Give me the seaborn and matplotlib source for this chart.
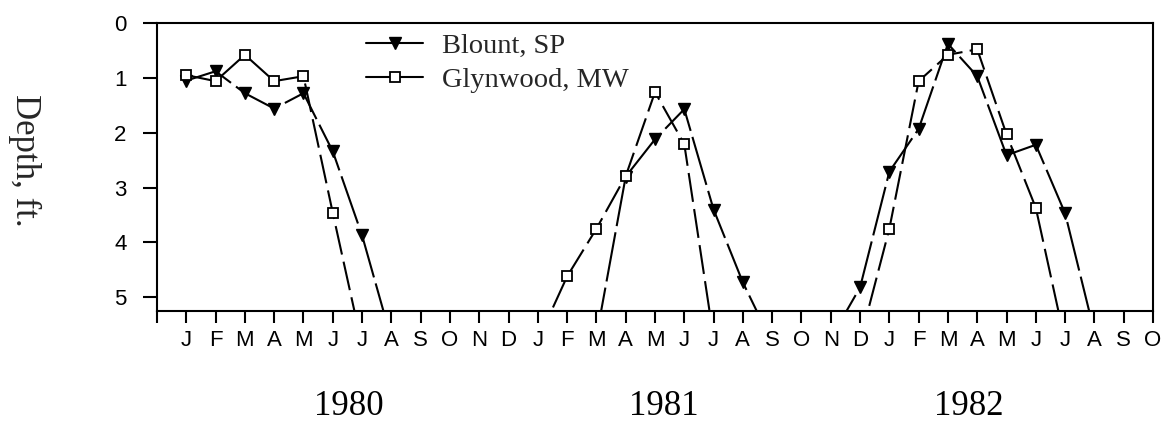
import numpy as np
import pandas as pd
import matplotlib
matplotlib.use("Agg")
import matplotlib.pyplot as plt
import seaborn as sns
from matplotlib.lines import Line2D
from matplotlib.transforms import blended_transform_factory

# ---- data -------------------------------------------------------------
months = (["J", "F", "M", "A", "M", "J", "J", "A", "S", "O", "N", "D"] * 2
          + ["J", "F", "M", "A", "M", "J", "J", "A", "S", "O"])
years = ["1980", "1981", "1982"]
year_pos = [6.56, 17.3, 27.7]
y_ticks = [0, 1, 2, 3, 4, 5]
nan = np.nan
blount = [1.05, 0.88, 1.28, 1.56, 1.28, 2.34, 3.87, 5.76, nan, nan, nan, nan,
          nan, nan, 5.72, 2.80, 2.12, 1.57, 3.40, 4.73, 5.83, nan, 5.75, 4.82,
          2.71, 1.93, 0.38, 0.97, 2.41, 2.22, 3.47, 5.64, nan, nan]
glynwood = [0.95, 1.06, 0.58, 1.06, 0.97, 3.46, 5.88, nan, nan, nan, nan, nan,
            5.79, 4.62, 3.75, 2.79, 1.26, 2.21, 5.74, nan, nan, nan, nan, 5.80,
            3.75, 1.06, 0.58, 0.48, 2.03, 3.37, 5.81, nan, nan, nan]
series_names = ["Blount, SP", "Glynwood, MW"]


def segments(values):
    s = pd.Series(values, dtype=float)
    df = pd.DataFrame({"pos": np.arange(1, len(values) + 1),
                       "depth": s,
                       "seg": s.isna().cumsum()})
    return df.dropna()


# ---- figure -----------------------------------------------------------
sns.set_style("ticks")
plt.rcParams["font.family"] = ["Liberation Sans", "DejaVu Sans"]
serif = ["Liberation Serif", "DejaVu Serif"]

fig = plt.figure(figsize=(11.68, 4.24), dpi=100)
ax = fig.add_axes([157 / 1168, 1 - 311 / 424, (1153 - 157) / 1168, (311 - 23) / 424])

sns.lineplot(data=segments(blount), x="pos", y="depth", units="seg",
             estimator=None, sort=False, ax=ax, legend=False,
             color="black", lw=1.5, linestyle=(0, (24, 3)),
             marker="v", markersize=8.5, markerfacecolor="black",
             markeredgecolor="black", markeredgewidth=1)
sns.lineplot(data=segments(glynwood), x="pos", y="depth", units="seg",
             estimator=None, sort=False, ax=ax, legend=False,
             color="black", lw=1.5, linestyle=(0, (14, 3.5)),
             marker="s", markersize=7.5, markerfacecolor="white",
             markeredgecolor="black", markeredgewidth=1.3)

ax.set_xlim(0, len(months))
ax.set_ylim(5.25, 0)
ax.set_xticks(range(0, len(months) + 1))
ax.set_xticklabels([""] + months)
ax.set_yticks(y_ticks)
ax.set_yticklabels([str(v) for v in y_ticks])
ax.set_xlabel("")
ax.set_ylabel("Depth, ft.", family=serif, fontsize=25, rotation=-90,
              va="center", ha="center")
ax.yaxis.set_label_coords(-0.133, 0.524)

for sp in ax.spines.values():
    sp.set_visible(True)
    sp.set_linewidth(1.5)
    sp.set_color("black")
ax.tick_params(axis="x", direction="out", length=8.6, width=1.5,
               pad=5, labelsize=16, colors="black")
ax.tick_params(axis="y", direction="out", length=10, width=1.5,
               pad=12, labelsize=16, colors="black")

trans = blended_transform_factory(ax.transData, ax.transAxes)
for pos, yr in zip(year_pos, years):
    ax.text(pos, -0.33, yr, transform=trans, ha="center", va="center",
            family=serif, fontsize=25, color="black")

handles = [
    Line2D([], [], color="black", lw=1.5, marker="v", markersize=8.5,
           markerfacecolor="black", markeredgecolor="black"),
    Line2D([], [], color="black", lw=1.5, marker="s", markersize=7.5,
           markerfacecolor="white", markeredgecolor="black", markeredgewidth=1.3),
]
ax.legend(handles, series_names, loc="upper left",
          bbox_to_anchor=(0.196, 1.015), frameon=False, borderpad=0,
          handlelength=2.0, handletextpad=0.65, labelspacing=0.3,
          prop={"family": serif, "size": 20.5})

fig.savefig("out.png", dpi=100)
